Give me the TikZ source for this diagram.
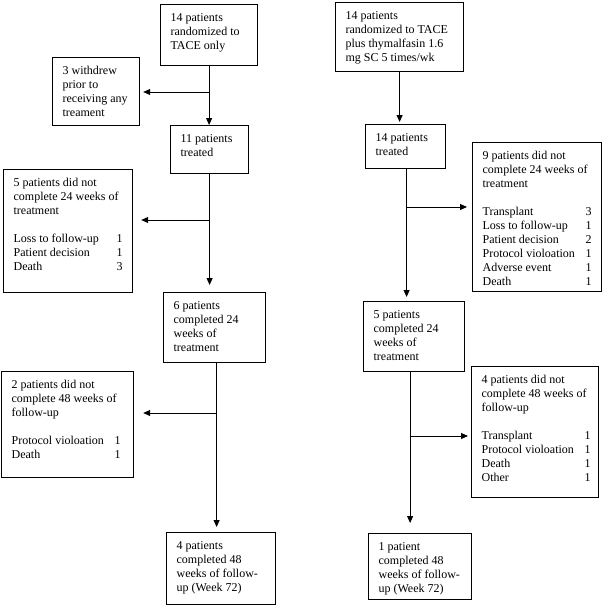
\documentclass[tikz,border=0pt]{standalone}
\usepackage{fontspec}
\setmainfont{Liberation Serif}
\usetikzlibrary{arrows.meta}
\newcommand\bt[3]{\parbox[c][\dimexpr#2pt-14.4pt\relax][t]{\dimexpr#1pt-20pt\relax}{\raggedright\strut #3}}
\newcommand\rw[2]{\makebox[103pt][l]{#1}#2}
\begin{document}
\begin{tikzpicture}[x=1pt,y=-1pt,
  box/.style={draw, line width=1.2pt, inner xsep=10pt, inner ysep=7.2pt, anchor=north west,
    font=\fontsize{12}{14}\selectfont},
  arr/.style={draw, line width=0.9pt, -{Triangle[length=7pt,width=6pt]}}]
\useasboundingbox (0,0) rectangle (602,605);
% left column
\node[box] (A) at (160,4) {\bt{97}{61}{14 patients\\randomized to\\TACE only}};
\node[box] (W) at (52,57) {\bt{87}{68}{3 withdrew\\prior to\\receiving any\\treament}};
\node[box] (B) at (170,125) {\bt{78}{48}{11 patients\\treated}};
\node[box] (C) at (3,169) {\bt{129}{123}{5 patients did not\\complete 24 weeks of\\treatment\\[14pt]\rw{Loss to follow-up}{1}\\\rw{Patient decision}{1}\\\rw{Death}{3}}};
\node[box] (D) at (163,292) {\bt{102}{70}{6 patients\\completed 24\\weeks of\\treatment}};
\node[box] (E) at (1,371) {\bt{132}{106}{2 patients did not\\complete 48 weeks of\\follow-up\\[14pt]\rw{Protocol violoation}{1}\\\rw{Death}{1}}};
\node[box] (F) at (166,532) {\bt{109}{72}{4 patients\\completed 48\\weeks of follow-\\up (Week 72)}};
% right column
\node[box] (G) at (335,2) {\bt{128}{69}{14 patients\\randomized to TACE\\plus thymalfasin 1.6\\mg SC 5 times/wk}};
\node[box] (H) at (365,124) {\bt{80}{44}{14 patients\\treated}};
\node[box] (I) at (472,142) {\bt{129}{149}{9 patients did not\\complete 24 weeks of\\treatment\\[14pt]\rw{Transplant}{3}\\\rw{Loss to follow-up}{1}\\\rw{Patient decision}{2}\\\rw{Protocol violoation}{1}\\\rw{Adverse event}{1}\\\rw{Death}{1}}};
\node[box] (J) at (363,301) {\bt{101}{70}{5 patients\\completed 24\\weeks of\\treatment}};
\node[box] (K) at (368,533) {\bt{103}{66}{1 patient\\completed 48\\weeks of follow-\\up (Week 72)}};
\node[box] (L) at (471,366) {\bt{127}{131}{4 patients did not\\complete 48 weeks of\\follow-up\\[14pt]\rw{Transplant}{1}\\\rw{Protocol violoation}{1}\\\rw{Death}{1}\\\rw{Other}{1}}};
% junctions
\coordinate (j1) at (208.5,92);
\coordinate (j2) at (209,220);
\coordinate (j3) at (216,413);
\coordinate (j4) at (406,207);
\coordinate (j5) at (409.5,436);
% connectors left
\draw[arr] (A.south) -- (A.south |- B.north);
\draw[arr, shorten >=3pt] (j1) -- (j1 -| W.east);
\draw[arr, shorten >=7pt] (B.south) -- (B.south |- D.north);
\draw[arr, shorten >=8pt] (j2) -- (j2 -| C.east);
\draw[arr, shorten >=5pt] ([xshift=2pt]D.south) -- ([xshift=2pt]D.south |- F.north);
\draw[arr, shorten >=9pt] (j3) -- (j3 -| E.east);
% connectors right
\draw[arr, shorten >=2pt] (G.south) -- (G.south |- H.north);
\draw[arr, shorten >=4pt] ([xshift=1pt]H.south) -- ([xshift=1pt]H.south |- J.north);
\draw[arr, shorten >=5pt] (j4) -- (j4 -| I.west);
\draw[arr, shorten >=10pt] ([xshift=-4pt]J.south) -- ([xshift=-4pt]J.south |- K.north);
\draw[arr, shorten >=3pt] (j5) -- (j5 -| L.west);
\end{tikzpicture}
\end{document}
